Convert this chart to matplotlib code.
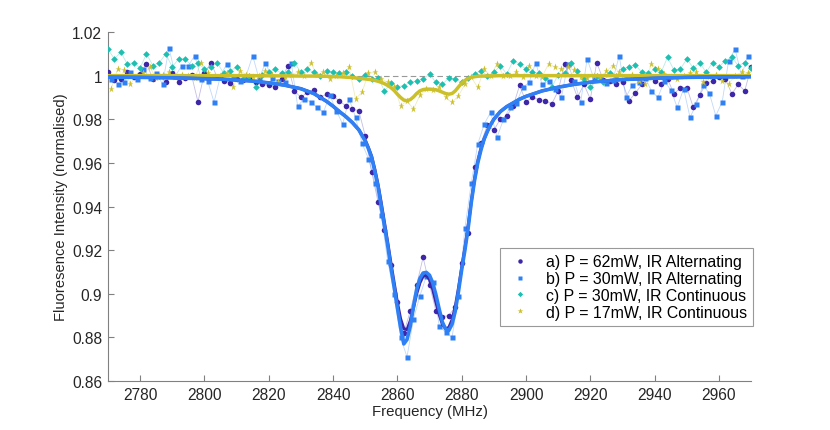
import numpy as np
import matplotlib
matplotlib.use('Agg')
import matplotlib.pyplot as plt
from matplotlib.ticker import FormatStrFormatter

plt.rcParams['font.family'] = ['Liberation Sans', 'DejaVu Sans']

# frequency grids (MHz)
freq_ac = np.arange(2770, 2971, 2)
freq_bd = np.arange(2771, 2970, 2)

# a) P = 62mW, IR Alternating
ys_a = [1.0015, 0.9980, 0.9985, 1.0015, 0.9992, 1.0008, 1.0055, 0.9985, 1.0000, 0.9970,
        1.0010, 0.9972, 0.9990, 1.0002, 0.9880, 1.0010, 1.0060, 0.9992, 0.9975, 0.9968,
        0.9985, 0.9978, 0.9990, 0.9972, 0.9960, 0.9955, 0.9950, 0.9985, 1.0045, 0.9930,
        0.9900, 0.9924, 0.9935, 0.9900, 0.9915, 0.9905, 0.9885, 0.9860, 0.9845, 0.9840,
        0.9725, 0.9560, 0.9420, 0.9290, 0.9130, 0.8960, 0.8820, 0.8920, 0.9040, 0.9167,
        0.9040, 0.8920, 0.8895, 0.8900, 0.8940, 0.9140, 0.9280, 0.9580, 0.9690, 0.9775,
        0.9750, 0.9800, 0.9815, 0.9860, 0.9955, 0.9880, 0.9900, 0.9890, 0.9885, 0.9870,
        0.9930, 1.0054, 0.9980, 0.9900, 0.9960, 0.9893, 1.0060, 0.9980, 0.9975, 0.9960,
        0.9970, 0.9885, 0.9920, 0.9960, 1.0000, 0.9975, 0.9960, 0.9985, 0.9916, 0.9945,
        0.9945, 0.9855, 0.9910, 0.9965, 0.9975, 0.9995, 0.9985, 0.9916, 0.9960, 0.9930,
        1.0040]

# b) P = 30mW, IR Alternating
ys_b = [0.9985, 0.9962, 0.9970, 1.0015, 0.9985, 1.0030, 0.9990, 1.0010, 0.9962, 1.0127,
        1.0000, 1.0046, 1.0046, 1.0092, 0.9985, 0.9977, 0.9878, 1.0000, 1.0054, 0.9990,
        0.9975, 1.0000, 1.0092, 0.9985, 1.0060, 0.9990, 0.9975, 0.9970, 1.0060, 0.9860,
        0.9893, 0.9880, 0.9855, 0.9832, 0.9910, 0.9840, 0.9778, 0.9893, 0.9810, 0.9690,
        0.9620, 0.9510, 0.9360, 0.9150, 0.9000, 0.8800, 0.8710, 0.8884, 0.8990, 0.9080,
        0.9052, 0.8853, 0.8823, 0.8800, 0.8990, 0.9300, 0.9510, 0.9686, 0.9778, 0.9832,
        0.9717, 0.9800, 0.9855, 0.9875, 0.9946, 0.9970, 1.0060, 0.9960, 0.9975, 0.9940,
        0.9900, 1.0054, 0.9975, 0.9878, 1.0077, 0.9990, 1.0000, 0.9965, 0.9980, 1.0092,
        0.9900, 0.9955, 0.9970, 0.9990, 0.9930, 0.9900, 0.9975, 0.9935, 0.9855, 0.9940,
        0.9809, 0.9870, 0.9955, 0.9920, 0.9816, 0.9880, 1.0069, 1.0122, 1.0000, 1.0092]

# c) P = 30mW, IR Continuous
ys_c = [1.0122, 1.0077, 1.0107, 1.0054, 1.0060, 1.0035, 1.0100, 1.0046, 1.0060, 1.0100,
        1.0040, 1.0077, 1.0077, 1.0045, 1.0060, 1.0030, 1.0038, 1.0060, 1.0010, 1.0023,
        1.0038, 0.9985, 1.0000, 0.9946, 1.0005, 1.0015, 1.0030, 1.0010, 1.0015, 1.0060,
        1.0015, 1.0030, 1.0015, 1.0000, 1.0020, 1.0015, 1.0010, 1.0015, 1.0000, 0.9985,
        1.0005, 0.9985, 0.9990, 0.9930, 0.9965, 0.9950, 0.9954, 0.9969, 0.9975, 0.9985,
        1.0007, 0.9969, 0.9960, 0.9990, 0.9985, 0.9970, 0.9990, 1.0007, 1.0023, 1.0000,
        1.0015, 1.0046, 1.0007, 1.0069, 1.0054, 1.0030, 1.0015, 1.0010, 0.9990, 0.9946,
        1.0005, 1.0010, 1.0060, 1.0020, 0.9985, 0.9946, 1.0000, 0.9970, 1.0010, 1.0000,
        1.0030, 1.0040, 1.0050, 1.0015, 1.0010, 1.0030, 1.0015, 1.0084, 1.0025, 1.0030,
        1.0077, 1.0035, 1.0060, 1.0015, 1.0060, 1.0040, 1.0069, 1.0084, 1.0045, 1.0060,
        1.0035]

# d) P = 17mW, IR Continuous
ys_d = [0.9939, 1.0030, 1.0025, 0.9962, 1.0000, 1.0010, 1.0038, 0.9990, 1.0005, 1.0015,
        0.9995, 1.0005, 1.0000, 0.9990, 1.0060, 1.0010, 0.9995, 1.0000, 1.0010, 0.9946,
        1.0023, 1.0005, 0.9992, 1.0000, 1.0023, 1.0005, 0.9970, 0.9995, 1.0005, 1.0015,
        1.0000, 1.0060, 1.0005, 1.0015, 0.9985, 1.0000, 1.0010, 1.0038, 0.9893, 0.9924,
        1.0010, 1.0015, 0.9985, 0.9969, 0.9950, 0.9862, 0.9885, 0.9846, 0.9910, 0.9938,
        0.9935, 0.9946, 0.9900, 0.9877, 0.9908, 0.9960, 0.9992, 0.9946, 1.0030, 1.0000,
        1.0054, 1.0000, 1.0000, 1.0015, 0.9995, 1.0046, 1.0000, 0.9995, 1.0054, 1.0040,
        1.0030, 1.0040, 1.0025, 0.9995, 0.9990, 1.0000, 0.9990, 1.0020, 1.0046, 1.0015,
        0.9990, 1.0005, 0.9975, 0.9962, 1.0054, 1.0030, 1.0008, 0.9995, 0.9985, 1.0000,
        1.0010, 1.0015, 0.9970, 0.9995, 1.0005, 0.9975, 0.9962, 1.0000, 1.0015, 1.0010]

# fitted curves
fit_x = [2770, 2780, 2790, 2800, 2805, 2810, 2815, 2820, 2825, 2830, 2834, 2838, 2840,
         2842, 2844, 2846, 2848, 2850, 2851, 2852, 2853, 2854, 2855, 2856, 2857, 2858,
         2859, 2860, 2861, 2862, 2863, 2864, 2865, 2866, 2867, 2868, 2869, 2870, 2871,
         2872, 2873, 2874, 2875, 2876, 2877, 2878, 2879, 2880, 2881, 2882, 2883, 2884,
         2885, 2886, 2887, 2888, 2889, 2890, 2892, 2894, 2896, 2898, 2900, 2905, 2910,
         2915, 2920, 2930, 2940, 2950, 2960, 2970]
fit_a = [0.9993, 0.9992, 0.9990, 0.9986, 0.9984, 0.9980, 0.9975, 0.9967, 0.9956, 0.9940,
         0.9918, 0.9882, 0.9860, 0.9835, 0.9812, 0.9785, 0.9752, 0.9705, 0.9670, 0.9630,
         0.9570, 0.9500, 0.9415, 0.9325, 0.9235, 0.9140, 0.9050, 0.8960, 0.8885, 0.8840,
         0.8835, 0.8875, 0.8935, 0.9000, 0.9050, 0.9080, 0.9085, 0.9065, 0.9020, 0.8960,
         0.8905, 0.8860, 0.8840, 0.8845, 0.8880, 0.8940, 0.9025, 0.9120, 0.9210, 0.9310,
         0.9425, 0.9525, 0.9605, 0.9665, 0.9710, 0.9745, 0.9775, 0.9800, 0.9835, 0.9858,
         0.9875, 0.9892, 0.9905, 0.9930, 0.9947, 0.9960, 0.9970, 0.9982, 0.9988, 0.9992,
         0.9994, 0.9995]
fit_b = [0.9993, 0.9992, 0.9990, 0.9986, 0.9984, 0.9980, 0.9975, 0.9967, 0.9956, 0.9940,
         0.9918, 0.9882, 0.9860, 0.9835, 0.9812, 0.9785, 0.9752, 0.9700, 0.9665, 0.9625,
         0.9560, 0.9490, 0.9400, 0.9310, 0.9220, 0.9120, 0.9030, 0.8935, 0.8845, 0.8770,
         0.8790, 0.8850, 0.8940, 0.9020, 0.9070, 0.9095, 0.9098, 0.9085, 0.9050, 0.8995,
         0.8930, 0.8870, 0.8838, 0.8832, 0.8860, 0.8920, 0.9010, 0.9110, 0.9200, 0.9300,
         0.9420, 0.9520, 0.9600, 0.9660, 0.9710, 0.9745, 0.9775, 0.9800, 0.9835, 0.9858,
         0.9875, 0.9892, 0.9905, 0.9930, 0.9947, 0.9960, 0.9970, 0.9982, 0.9988, 0.9992,
         0.9994, 0.9995]
fit_d = [1.0000, 1.0000, 1.0000, 1.0000, 1.0000, 1.0000, 1.0000, 0.9999, 0.9999, 0.9998,
         0.9998, 0.9997, 0.9996, 0.9995, 0.9993, 0.9991, 0.9988, 0.9985, 0.9983, 0.9981,
         0.9978, 0.9974, 0.9969, 0.9963, 0.9955, 0.9945, 0.9932, 0.9915, 0.9900, 0.9888,
         0.9885, 0.9890, 0.9902, 0.9918, 0.9930, 0.9936, 0.9938, 0.9938, 0.9937, 0.9935,
         0.9930, 0.9924, 0.9918, 0.9915, 0.9918, 0.9930, 0.9948, 0.9965, 0.9978, 0.9987,
         0.9992, 0.9995, 0.9997, 0.9998, 0.9998, 0.9999, 0.9999, 0.9999, 1.0000, 1.0000,
         1.0000, 1.0000, 1.0000, 1.0000, 1.0000, 1.0000, 1.0000, 1.0000, 1.0000, 1.0000,
         1.0000, 1.0000]

labels = ['a) P = 62mW, IR Alternating', 'b) P = 30mW, IR Alternating',
          'c) P = 30mW, IR Continuous', 'd) P = 17mW, IR Continuous']
colors = ['#3e26a8', '#2f80f5', '#1cbfb0', '#cbbf2a']

fig = plt.figure(figsize=(8.3, 4.31), dpi=100)
ax = fig.add_axes([0.130, 0.1137, 0.775, 0.8097])

ax.axhline(1.0, color='#999999', lw=0.8, ls=(0, (5, 3)), zorder=1)

series = [(freq_ac, ys_a, 'o', 4.0), (freq_bd, ys_b, 's', 3.6),
          (freq_ac, ys_c, 'D', 3.4), (freq_bd, ys_d, '*', 5.2)]
handles = []
for (fx, fy, mk, ms), col, lab in zip(series, colors, labels):
    ax.plot(fx, fy, '-', color=col, lw=0.6, alpha=0.3, zorder=2)
    h, = ax.plot(fx, fy, mk, color=col, ms=ms, mec='none', label=lab, zorder=3)
    handles.append(h)

ax.plot(fit_x, fit_d, color=colors[3], lw=2.5, zorder=4)
ax.plot(fit_x, fit_a, color=colors[0], lw=2.2, zorder=4)
ax.plot(fit_x, fit_b, color=colors[1], lw=2.6, zorder=5)

ax.set_xlim(2770, 2970)
ax.set_ylim(0.86, 1.02)
ax.set_xticks(np.arange(2780, 2961, 20))
ax.set_yticks([0.86, 0.88, 0.9, 0.92, 0.94, 0.96, 0.98, 1.0, 1.02])
ax.yaxis.set_major_formatter(FormatStrFormatter('%g'))
ax.spines['top'].set_visible(False)
ax.spines['right'].set_visible(False)
for s in ['left', 'bottom']:
    ax.spines[s].set_color('#808080')
    ax.spines[s].set_linewidth(0.8)
ax.tick_params(direction='in', length=4, width=0.8, color='#808080',
               labelsize=11.2, labelcolor='#262626', pad=4)
ax.set_xlabel('Frequency (MHz)', fontsize=10.8, color='#262626', labelpad=2)
ax.set_ylabel('Fluoresence Intensity (normalised)', fontsize=10.6, color='#262626',
              labelpad=3)

leg = ax.legend(handles=handles, loc='lower right', bbox_to_anchor=(1.003, 0.157),
                borderaxespad=0, fontsize=11.4, frameon=True, fancybox=False,
                handlelength=1.8, handletextpad=0.7, borderpad=0.4,
                labelspacing=0.12, markerscale=0.8)
leg.get_frame().set_edgecolor('#808080')
leg.get_frame().set_linewidth(0.8)

fig.savefig('out.png', dpi=100)
